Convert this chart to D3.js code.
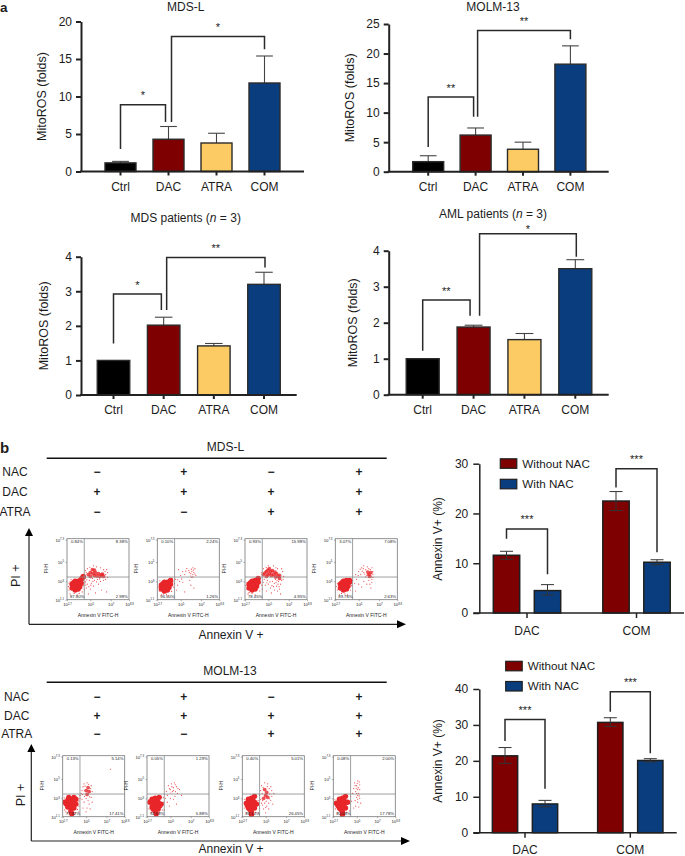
<!DOCTYPE html>
<html>
<head>
<meta charset="utf-8">
<style>
  html, body { margin: 0; padding: 0; background: #fff; }
  svg { display: block; }
  text { font-family: "Liberation Sans", Arial, sans-serif; fill: #1c1c1c; }
</style>
<script src="https://cdn.jsdelivr.net/npm/d3@7"></script>
</head>
<body>
<svg width="685" height="856"></svg>
<script>
var treatments = ['Ctrl', 'DAC', 'ATRA', 'COM'];
var treatmentColors = ['#000000', '#7f0000', '#fdcb63', '#0a3d7e'];

// panel a: bar value and top of the error bar
var mdsLValues = [1.15, 4.3, 3.8, 11.8];
var mdsLTops = [1.35, 6.0, 5.1, 15.4];
var molmValues = [1.7, 6.2, 3.8, 18.2];
var molmTops = [2.7, 7.4, 5.0, 21.3];
var mdsPatientValues = [1.0, 2.02, 1.42, 3.2];
var mdsPatientTops = [1.0, 2.25, 1.49, 3.55];
var amlPatientValues = [1.0, 1.88, 1.53, 3.5];
var amlPatientTops = [1.0, 1.93, 1.7, 3.75];

// panel b: bars with NAC / without NAC
var groups = ['DAC', 'COM'];
var nacSeries = ['Without NAC', 'With NAC'];
var nacColors = ['#7f0000', '#0a3d7e'];
var mdsLNac = [[11.6, 4.5], [22.5, 10.2]];
var mdsLNacHigh = [[12.4, 5.7], [24.4, 10.7]];
var mdsLNacLow = [[10.8, 3.6], [20.6, 9.7]];
var molmNac = [[21.4, 8.0], [30.7, 20.1]];
var molmNacHigh = [[23.7, 9.0], [32.0, 20.6]];
var molmNacLow = [[19.3, 7.2], [29.6, 19.7]];

// treatment grid above the flow plots
var gridRows = ['NAC', 'DAC', 'ATRA'];
var gridSigns = [['−', '+', '−', '+'], ['+', '+', '+', '+'], ['−', '−', '+', '+']];

// quadrant percentages: top left, top right, bottom left, bottom right
var mdsLQuadrants = [
  ['0.84%', '8.38%', '87.80%', '2.98%'],
  ['0.10%', '2.24%', '96.50%', '1.26%'],
  ['0.93%', '15.98%', '78.45%', '4.95%'],
  ['3.07%', '7.08%', '89.78%', '2.63%']
];
var molmQuadrants = [
  ['0.13%', '5.14%', '77.32%', '17.41%'],
  ['0.05%', '1.29%', '92.68%', '5.88%'],
  ['0.40%', '5.01%', '88.14%', '26.45%'],
  ['0.08%', '2.00%', '80.08%', '17.78%']
];

// flow events as [log10 Annexin V, log10 PI], estimated by eye. "dense" are the solid clumps
var mdsLDense = [
  [[3.2,2.3],[3.5,2.1],[3.8,2.2],[3.2,2.7],[3.5,2.6],[3.8,2.6],[4.1,2.8],[3.5,3.0],[3.8,3.0],[4.1,3.2],[4.3,3.5],[3.3,2.4],[3.6,2.35],[3.35,2.85],[3.95,2.45],[3.65,2.8],[3.95,3.0],[4.2,3.35],
   [5.0,3.9],[5.2,4.2],[5.5,3.9],[5.8,3.8],[6.1,3.7],[6.3,3.5],[5.4,3.6],[5.0,3.5],[5.25,3.8],[5.65,3.55],[5.95,3.5],[5.4,4.15],[4.8,3.7],[6.2,3.75]],
  [[3.1,2.2],[3.4,2.0],[3.7,2.1],[3.1,2.6],[3.4,2.5],[3.7,2.5],[4.0,2.7],[3.4,2.9],[3.7,2.9],[4.0,3.1],[3.25,2.35],[3.55,2.3],[3.85,2.35],[3.25,2.75],[3.55,2.7],[3.85,2.75]],
  [[3.1,2.3],[3.4,2.1],[3.7,2.2],[3.1,2.7],[3.4,2.6],[3.7,2.7],[4.0,2.9],[3.4,3.0],[3.7,3.1],[4.0,3.3],[3.25,2.45],[3.55,2.4],[3.85,2.5],[3.25,2.85],[3.55,2.85],[3.85,2.95],
   [4.5,3.7],[4.8,4.0],[5.1,4.3],[5.4,4.1],[5.1,3.8],[5.5,3.7],[5.8,3.8],[6.1,3.6],[4.8,3.5],[6.1,3.3],[4.65,3.85],[4.95,4.15],[5.25,4.0],[5.3,3.6],[5.65,3.95],[5.95,3.5],[4.95,3.65],[5.7,3.45]],
  [[3.2,2.3],[3.5,2.1],[3.8,2.2],[3.2,2.7],[3.5,2.6],[3.8,2.7],[4.1,2.9],[3.5,3.0],[3.8,3.1],[4.1,3.1],[3.35,2.45],[3.65,2.4],[3.95,2.5],[3.35,2.85],[3.65,2.85],[3.95,2.95],
   [6.0,3.7],[6.2,3.9],[6.1,3.5],[5.9,3.95]]
];
var mdsLSparse = [
  [[4.5,3.0],[4.7,2.7],[4.9,3.1],[5.1,2.8],[5.3,2.5],[4.6,2.3],[5.0,2.2],[5.4,3.1],[5.7,3.2],[6.0,3.0],[5.8,2.7],[6.3,3.1],[6.1,2.1],[6.6,1.9],[5.5,1.8],[6.7,3.4],[6.7,3.9],[6.6,4.2],[4.6,3.9],[4.4,3.7],[4.7,4.3],[5.6,4.5],[6.0,4.4],[6.3,4.2],[2.9,2.1],[2.9,2.8],[3.0,1.7],[3.7,1.6],[4.2,1.9],[4.8,1.7],[4.5,3.3],[5.2,3.3],
   [4.55,2.6],[4.65,3.15],[4.85,2.45],[4.4,2.15],[4.3,2.55],[4.5,2.85],[2.85,2.45],[3.0,2.95],[3.1,3.2],[3.4,1.75],[3.9,1.75],[4.15,2.25],[5.05,2.6],[5.25,3.0],[4.95,4.45],[5.3,4.6],[6.5,3.7],[6.5,3.2],[6.45,4.0],[4.5,4.1],[5.9,3.25],[5.6,2.95]],
  [[4.4,2.8],[4.5,3.2],[4.7,2.6],[4.9,3.0],[5.2,2.9],[4.6,2.1],[5.0,3.6],[5.2,4.0],[5.4,3.7],[5.6,4.3],[5.8,4.1],[6.0,3.8],[6.1,4.0],[6.2,3.7],[6.3,3.9],[6.1,3.4],[6.4,4.3],[6.5,3.6],[5.9,3.1],[6.0,2.6],[6.3,2.3],[2.9,2.0],[2.9,2.8],[3.1,1.6],[3.8,1.5],[5.4,1.9],[4.8,4.2],[6.2,4.4],
   [4.3,2.4],[4.25,2.95],[4.15,3.3],[2.8,2.4],[2.95,3.05],[3.3,1.7],[3.6,1.65],[4.1,1.95],[6.05,4.25],[6.25,4.15],[6.0,3.55],[6.2,3.45],[5.85,3.9],[6.4,3.75],[5.5,4.05],[4.7,3.15],[5.1,3.25]],
  [[4.5,2.9],[4.7,2.6],[4.9,3.1],[5.0,2.7],[5.2,2.3],[5.4,3.0],[5.6,2.8],[5.8,2.5],[6.0,3.0],[6.2,2.7],[6.1,2.2],[5.9,2.0],[5.6,2.1],[6.3,3.1],[6.5,3.5],[6.4,4.0],[5.9,4.3],[5.5,4.6],[5.0,4.6],[4.5,4.3],[4.3,3.9],[5.3,1.8],[6.2,1.7],[2.9,2.2],[2.9,2.9],[3.0,1.7],[3.7,1.6],[4.4,2.2],[4.8,2.0],[5.7,3.2],
   [4.6,3.2],[4.85,2.85],[5.15,2.95],[5.35,2.55],[5.5,2.45],[5.75,2.9],[5.95,2.7],[6.05,2.45],[5.85,3.1],[4.35,2.6],[2.8,2.55],[3.1,1.85],[3.4,1.75],[4.15,2.0],[6.3,4.3],[4.8,4.45],[5.75,4.4],[6.45,3.2]],
  [[4.4,3.1],[4.6,2.8],[4.8,3.2],[5.0,2.7],[5.3,2.4],[5.5,3.0],[5.8,2.7],[6.0,3.1],[6.2,2.3],[6.3,2.9],[6.4,3.4],[4.7,3.7],[5.0,4.0],[5.2,3.7],[5.3,4.4],[5.5,3.9],[5.7,4.2],[5.8,3.6],[5.5,4.6],[6.0,4.3],[6.3,4.4],[6.4,4.0],[2.9,2.1],[2.9,2.8],[3.1,1.6],[3.9,1.6],[4.7,2.0],
   [5.35,4.05],[5.6,3.75],[5.45,4.3],[5.85,4.5],[5.95,3.4],[5.7,3.45],[6.15,4.2],[6.4,3.7],[5.15,4.25],[4.95,3.6],[4.3,2.55],[2.8,2.45],[3.3,1.75],[3.65,1.7],[4.2,2.1],[6.1,2.7],[6.3,3.2]]
];
var molmDense = [
  [[2.9,2.6],[3.2,2.1],[3.2,2.8],[3.5,1.7],[3.5,2.3],[3.5,2.9],[3.8,2.0],[3.8,2.6],[3.8,3.1],[4.0,2.4],[4.0,2.9],[3.3,3.1],[3.6,1.4],[3.35,2.45],[3.65,2.65],[3.65,2.05],[3.05,2.4],
   [5.0,3.8],[5.2,4.1],[5.3,3.7],[5.1,3.4]],
  [[3.0,2.6],[3.2,2.1],[3.2,2.9],[3.5,1.7],[3.5,2.3],[3.5,3.0],[3.8,1.9],[3.8,2.6],[3.9,3.1],[4.1,2.4],[3.6,1.4],[3.35,2.5],[3.65,2.7],[3.65,2.1],[3.3,1.9],[3.95,2.2]],
  [[3.1,2.5],[3.3,2.0],[3.3,2.9],[3.6,1.6],[3.6,2.3],[3.6,3.0],[3.9,2.0],[3.9,2.6],[3.9,3.2],[4.1,2.4],[3.6,1.3],[3.45,2.6],[3.75,2.75],[3.75,2.15],[3.45,1.85],[3.2,2.25],
   [4.9,3.9],[5.1,3.6],[5.0,3.3],[5.2,3.1],[4.8,3.0]],
  [[3.0,2.5],[3.3,2.0],[3.3,2.9],[3.6,1.6],[3.6,2.3],[3.6,3.0],[3.9,2.0],[3.9,2.6],[3.9,3.2],[4.1,2.6],[3.6,1.3],[3.45,2.6],[3.75,2.75],[3.75,2.15],[3.45,1.85],[3.15,2.25]]
];
var molmSparse = [
  [[4.4,3.3],[4.6,3.8],[4.7,4.2],[4.8,4.5],[5.1,4.6],[5.5,4.3],[5.6,3.7],[4.6,2.9],[4.8,2.6],[5.0,3.0],[5.2,2.8],[5.3,2.4],[5.1,2.0],[4.7,2.0],[5.5,3.1],[5.6,2.6],[5.0,1.6],[5.4,1.9],[7.4,6.0],[2.9,1.8],[4.3,1.6],[4.4,3.0],[4.5,3.5],
   [4.85,3.2],[4.65,3.4],[5.35,3.15],[5.45,4.0],[4.9,4.25],[5.25,4.45],[4.3,2.2],[4.3,2.7],[2.85,3.05],[3.0,1.6],[3.2,1.45],[3.95,1.5],[4.15,1.85]],
  [[4.5,3.0],[4.6,3.7],[4.7,2.6],[4.8,4.3],[5.0,3.9],[5.1,4.5],[5.2,3.7],[5.3,4.1],[5.4,4.6],[5.5,3.7],[5.6,4.2],[5.7,3.5],[5.9,3.9],[6.1,3.3],[5.0,3.0],[5.3,2.9],[4.9,2.2],[5.6,2.4],[4.4,1.8],[4.3,3.1],[2.9,1.9],
   [4.9,4.0],[5.15,4.2],[5.3,3.8],[5.5,4.4],[5.75,4.0],[5.05,3.55],[4.7,3.3],[4.35,2.6],[2.9,2.9],[3.15,1.55],[3.95,1.55],[4.2,1.8],[5.45,3.2]],
  [[4.4,3.3],[4.5,2.9],[4.6,2.5],[4.5,3.8],[4.6,4.3],[4.9,4.6],[5.2,4.5],[5.5,4.2],[5.6,3.8],[5.6,3.2],[5.5,2.8],[5.3,2.5],[5.1,2.2],[4.8,1.9],[5.0,1.5],[5.3,1.9],[4.7,2.3],[5.7,2.4],[5.8,3.5],[4.4,2.0],[4.3,1.5],[2.9,2.0],
   [4.65,3.5],[4.7,2.75],[4.9,2.5],[5.05,2.7],[5.35,2.95],[5.4,3.45],[5.35,4.0],[4.75,4.1],[5.15,4.2],[5.0,2.05],[2.9,2.9],[3.15,1.5],[4.0,1.55],[4.25,2.75]],
  [[4.4,3.2],[4.5,2.7],[4.6,3.5],[4.7,4.0],[4.8,4.6],[5.0,4.3],[5.1,4.8],[5.3,4.4],[5.3,3.9],[5.2,3.5],[5.0,3.1],[5.3,3.0],[5.1,2.6],[5.2,2.1],[4.9,2.2],[4.7,2.0],[5.4,2.5],[4.9,3.7],[5.1,3.3],[4.3,1.7],[2.9,1.9],
   [4.95,4.0],[5.1,3.9],[5.15,4.1],[5.05,4.55],[4.85,4.3],[5.25,4.7],[5.0,3.5],[5.25,3.25],[5.1,2.9],[4.85,2.75],[2.85,2.85],[3.15,1.5],[4.0,1.55],[4.25,2.5]]
];

var ink = '#222';
var svg = d3.select('svg');

// band scale from the centres of the first and last band
function bandAround(domain, first, last, width) {
  var step = (last - first) / (domain.length - 1);
  var p = 1 - width / step;
  return d3.scaleBand()
    .domain(domain)
    .range([first - width / 2 - p * step, last + width / 2 + p * step])
    .padding(p);
}

function styleAxis(g, lineWidth, fontSize) {
  g.selectAll('path, line').attr('stroke', ink).attr('stroke-width', lineWidth);
  g.selectAll('text').attr('font-size', fontSize).attr('fill', '#1c1c1c');
}

function drawBracket(b, yScale, xFrom, xTo) {
  svg.append('path')
    .attr('d', d3.line()([[xFrom, yScale(b.fromLow)], [xFrom, yScale(b.top)], [xTo, yScale(b.top)], [xTo, yScale(b.toLow)]]))
    .attr('fill', 'none')
    .attr('stroke', '#2a2a2a')
    .attr('stroke-width', 1.5);
  svg.append('text')
    .attr('x', (xFrom + xTo) / 2)
    .attr('y', yScale(b.top) - 5.5 + (b.labelDy || 0))
    .attr('text-anchor', 'middle')
    .attr('font-size', 11)
    .text(b.label);
}

function treatmentPanel(p) {
  var yScale = d3.scaleLinear().domain([0, p.max]).range([p.y0, p.y1]);
  var xScale = bandAround(treatments, p.c0, p.c3, p.barWidth);
  var mid = xScale.bandwidth() / 2;

  svg.append('text')
    .attr('x', p.titleX).attr('y', p.titleY)
    .attr('text-anchor', 'middle').attr('font-size', 12)
    .html(p.title);

  // error bars go behind the bars
  treatments.forEach(function(t, i) {
    if (p.tops[i] <= p.values[i]) return;
    var cx = xScale(t) + mid;
    svg.append('path')
      .attr('d', d3.line()([[cx, yScale(p.values[i])], [cx, yScale(p.tops[i])]]))
      .attr('stroke', '#444').attr('stroke-width', 1.1);
    svg.append('path')
      .attr('d', d3.line()([[cx - p.barWidth * 0.27, yScale(p.tops[i])], [cx + p.barWidth * 0.27, yScale(p.tops[i])]]))
      .attr('stroke', '#444').attr('stroke-width', 1.1);
  });

  svg.selectAll(null)
    .data(treatments)
    .enter().append('rect')
    .attr('x', function(d) { return xScale(d); })
    .attr('y', function(d, i) { return yScale(p.values[i]); })
    .attr('width', xScale.bandwidth())
    .attr('height', function(d, i) { return p.y0 - yScale(p.values[i]); })
    .attr('fill', function(d, i) { return treatmentColors[i]; })
    .attr('stroke', '#2b2b2b')
    .attr('stroke-width', 1.4);

  var yAxis = d3.axisLeft(yScale).tickValues(p.ticks).tickFormat(d3.format('d')).tickSize(5).tickPadding(4).tickSizeOuter(0);
  svg.append('g')
    .attr('transform', 'translate(' + [p.x0, 0] + ')')
    .call(yAxis)
    .call(styleAxis, 2, 12);

  var xAxis = d3.axisBottom(xScale).tickSize(4).tickPadding(6.5).tickSizeOuter(0);
  var xg = svg.append('g')
    .attr('transform', 'translate(' + [0, p.y0] + ')')
    .call(xAxis)
    .call(styleAxis, 2, 12);
  xg.select('.domain').remove();

  svg.append('path')
    .attr('d', d3.line()([[p.x0 - 1, p.y0], [p.xEnd, p.y0]]))
    .attr('stroke', ink).attr('stroke-width', 2);

  svg.append('text')
    .attr('transform', 'translate(' + [p.labelX, (p.y0 + p.y1) / 2 + p.labelDy] + ') rotate(-90)')
    .attr('text-anchor', 'middle').attr('font-size', 12.5)
    .text('MitoROS (folds)');

  p.brackets.forEach(function(b) {
    drawBracket(b, yScale,
      xScale(b.from) + mid + b.fromDx,
      xScale(b.to) + mid + b.toDx);
  });
}

treatmentPanel({
  title: 'MDS-L', titleX: 185.7, titleY: 10.5,
  x0: 81, xEnd: 304, y0: 171.5, y1: 21.5, max: 20, ticks: [0, 5, 10, 15, 20],
  c0: 120.5, c3: 264.5, barWidth: 31, labelX: 46, labelDy: 0,
  values: mdsLValues, tops: mdsLTops,
  brackets: [
    {from: 'Ctrl', to: 'DAC', fromDx: 0, toDx: -3, fromLow: 3.0, top: 8.9, toLow: 6.6, label: '*'},
    {from: 'DAC', to: 'COM', fromDx: 3, toDx: 0, fromLow: 6.6, top: 18.0, toLow: 16.3, label: '*'}
  ]
});
treatmentPanel({
  title: 'MOLM-13', titleX: 493, titleY: 11,
  x0: 388.7, xEnd: 608.7, y0: 171.7, y1: 24, max: 25, ticks: [0, 5, 10, 15, 20, 25],
  c0: 428.2, c3: 570.4, barWidth: 31, labelX: 354, labelDy: 0,
  values: molmValues, tops: molmTops,
  brackets: [
    {from: 'Ctrl', to: 'DAC', fromDx: 0, toDx: -2, fromLow: 4.2, top: 12.64, toLow: 9.3, label: '**'},
    {from: 'DAC', to: 'COM', fromDx: 2, toDx: 0, fromLow: 9.3, top: 23.9, toLow: 22.4, label: '**'}
  ]
});
treatmentPanel({
  title: 'MDS patients (<tspan font-style="italic">n</tspan> = 3)', titleX: 185.7, titleY: 222,
  x0: 81, xEnd: 296.7, y0: 395, y1: 256.7, max: 4, ticks: [0, 1, 2, 3, 4],
  c0: 113.5, c3: 264, barWidth: 32.5, labelX: 48, labelDy: 0,
  values: mdsPatientValues, tops: mdsPatientTops,
  brackets: [
    {from: 'Ctrl', to: 'DAC', fromDx: 0, toDx: -2.3, fromLow: 1.49, top: 2.92, toLow: 2.46, label: '*'},
    {from: 'DAC', to: 'COM', fromDx: 3, toDx: 1, fromLow: 2.46, top: 3.98, toLow: 3.69, label: '**'}
  ]
});
treatmentPanel({
  title: 'AML patients (<tspan font-style="italic">n</tspan> = 3)', titleX: 493, titleY: 218,
  x0: 388.7, xEnd: 608.7, y0: 394.7, y1: 250.7, max: 4, ticks: [0, 1, 2, 3, 4],
  c0: 422.7, c3: 575.3, barWidth: 33, labelX: 357, labelDy: 0,
  values: amlPatientValues, tops: amlPatientTops,
  brackets: [
    {from: 'Ctrl', to: 'DAC', fromDx: 0, toDx: -3.5, fromLow: 1.22, top: 2.63, toLow: 2.19, label: '**'},
    {from: 'DAC', to: 'COM', fromDx: 6, toDx: 1, fromLow: 2.19, top: 4.47, toLow: 3.83, label: '*', labelDy: 4.5}
  ]
});

function nacPanel(p) {
  var yScale = d3.scaleLinear().domain([0, p.max]).range([p.y0, p.y1]);
  var xScale = bandAround(groups, p.g0, p.g1, 60);
  var inner = bandAround(nacSeries, -p.offset, p.offset, p.barWidth);

  groups.forEach(function(g, gi) {
    var gx = xScale(g) + xScale.bandwidth() / 2;
    nacSeries.forEach(function(s, si) {
      var left = gx + inner(s);
      var cx = left + inner.bandwidth() / 2;
      svg.append('rect')
        .attr('x', left)
        .attr('y', yScale(p.values[gi][si]))
        .attr('width', inner.bandwidth())
        .attr('height', p.y0 - yScale(p.values[gi][si]))
        .attr('fill', nacColors[si])
        .attr('stroke', '#1f1f1f')
        .attr('stroke-width', 1.5);
      var hi = yScale(p.high[gi][si]), lo = yScale(p.low[gi][si]);
      svg.append('path')
        .attr('d', 'M' + [cx - 6.5, hi] + 'H' + (cx + 6.5) + 'M' + [cx, hi] + 'V' + lo + 'M' + [cx - 6.5, lo] + 'H' + (cx + 6.5))
        .attr('fill', 'none').attr('stroke', '#333').attr('stroke-width', 1);
    });
  });

  var yAxis = d3.axisLeft(yScale).tickValues(p.ticks).tickFormat(d3.format('d')).tickSize(6).tickPadding(5).tickSizeOuter(0);
  svg.append('g')
    .attr('transform', 'translate(' + [p.x0, 0] + ')')
    .call(yAxis)
    .call(styleAxis, 1.5, 12);

  var xg = svg.append('g')
    .attr('transform', 'translate(' + [0, p.y0] + ')')
    .call(d3.axisBottom(xScale).tickSize(5).tickPadding(8).tickSizeOuter(0))
    .call(styleAxis, 1.5, 12);
  xg.select('.domain').remove();

  svg.append('path')
    .attr('d', d3.line()([[p.x0 - 6, p.y0], [p.xEnd, p.y0]]))
    .attr('stroke', ink).attr('stroke-width', 1.5);

  svg.append('text')
    .attr('transform', 'translate(' + [p.labelX, p.labelY] + ') rotate(-90)')
    .attr('text-anchor', 'middle').attr('font-size', 12)
    .text('Annexin V+ (%)');

  nacSeries.forEach(function(s, i) {
    svg.append('rect')
      .attr('x', p.legendX).attr('y', p.legendYs[i] - 4.7)
      .attr('width', 16.5).attr('height', 9.5)
      .attr('fill', nacColors[i]).attr('stroke', '#1f1f1f').attr('stroke-width', 1.2);
    svg.append('text')
      .attr('x', p.legendX + 22).attr('y', p.legendYs[i] + 4)
      .attr('font-size', 11.7)
      .text(s);
  });

  p.brackets.forEach(function(b) {
    var gx = xScale(b.group) + xScale.bandwidth() / 2;
    drawBracket(b, yScale, gx - p.offset, gx + p.offset);
  });
}

nacPanel({
  x0: 479.3, xEnd: 684, y0: 613, y1: 463.7, max: 30, ticks: [0, 10, 20, 30],
  g0: 527, g1: 636.5, offset: 20.5, barWidth: 26.4,
  labelX: 442, labelY: 539,
  legendX: 500.3, legendYs: [463.5, 484],
  values: mdsLNac, high: mdsLNacHigh, low: mdsLNacLow,
  brackets: [
    {group: 'DAC', fromLow: 14.9, top: 16.9, toLow: 7.8, label: '***'},
    {group: 'COM', fromLow: 25.2, top: 29, toLow: 12.2, label: '***'}
  ]
});
nacPanel({
  x0: 479.3, xEnd: 676.7, y0: 832.7, y1: 689, max: 40, ticks: [0, 10, 20, 30, 40],
  g0: 525, g1: 630.3, offset: 20, barWidth: 25.3,
  labelX: 442, labelY: 761,
  legendX: 505.7, legendYs: [666, 686.2],
  values: molmNac, high: molmNacHigh, low: molmNacLow,
  brackets: [
    {group: 'DAC', fromLow: 25.5, top: 31.5, toLow: 12.2, label: '***'},
    {group: 'COM', fromLow: 33.7, top: 39.2, toLow: 22.1, label: '***'}
  ]
});

function flowPlot(left, top, quadrants, dense, sparse) {
  var w = 62, h = 61;
  var x = d3.scaleLinear().domain([2.7, 8.8]).range([left, left + w]);
  var y = d3.scaleLinear().domain([1.1, 7.4]).range([top + h, top]);

  var clip = 'clip-' + Math.round(left) + '-' + Math.round(top);
  svg.append('clipPath').attr('id', clip)
    .append('rect').attr('x', left).attr('y', top).attr('width', w).attr('height', h);
  var dots = svg.append('g').attr('clip-path', 'url(#' + clip + ')');

  dots.selectAll('.sparse')
    .data(sparse).enter().append('circle').attr('class', 'sparse')
    .attr('cx', function(d) { return x(d[0]); })
    .attr('cy', function(d) { return y(d[1]); })
    .attr('r', 0.6)
    .attr('fill', '#ec4a4d');
  // the lower left clump is solid, the upper ones are thinner
  dots.selectAll('.dense')
    .data(dense).enter().append('circle').attr('class', 'dense')
    .attr('cx', function(d) { return x(d[0]); })
    .attr('cy', function(d) { return y(d[1]); })
    .attr('r', function(d) { return d[0] < 4.45 ? 2.7 : 1.9; })
    .attr('fill', '#e8262a')
    .attr('fill-opacity', function(d) { return d[0] < 4.45 ? 1 : 0.8; });

  svg.append('rect')
    .attr('x', left).attr('y', top).attr('width', w).attr('height', h)
    .attr('fill', 'none').attr('stroke', '#777').attr('stroke-width', 0.8);
  svg.append('path')
    .attr('d', 'M' + [x(4.4), top] + 'V' + (top + h) + 'M' + [left, y(3.44)] + 'H' + (left + w))
    .attr('fill', 'none').attr('stroke', '#888').attr('stroke-width', 0.8);

  var bottom = svg.append('g')
    .attr('transform', 'translate(' + [0, top + h] + ')')
    .call(d3.axisBottom(x).tickValues([2.7, 5, 7, 8.8]).tickSize(1.5).tickPadding(2).tickFormat(''));
  var side = svg.append('g')
    .attr('transform', 'translate(' + [left, 0] + ')')
    .call(d3.axisLeft(y).tickValues([1.1, 3, 5, 7.3]).tickSize(1.5).tickPadding(1.5).tickFormat(''));
  [bottom, side].forEach(function(g) {
    g.select('.domain').remove();
    g.selectAll('line').attr('stroke', '#666').attr('stroke-width', 0.5);
    var labels = g.selectAll('.tick text').attr('font-size', 4.2).attr('fill', '#333').text('10');
    labels.append('tspan')
      .attr('dy', -1.3).attr('font-size', 2.8)
      .text(function(d) { return d; });
  });

  svg.append('text')
    .attr('x', left + w / 2).attr('y', top + h + 17.5)
    .attr('text-anchor', 'middle').attr('font-size', 5).attr('fill', '#333')
    .text('Annexin V FITC-H');
  svg.append('text')
    .attr('transform', 'translate(' + [left - 19, top + 30] + ') rotate(-90)')
    .attr('text-anchor', 'middle').attr('font-size', 4.6).attr('fill', '#333')
    .text('PI-H');

  var spots = [
    [left + 4, top + 4.5, 'start'], [left + w - 1.3, top + 4.5, 'end'],
    [left + 3, top + h - 2, 'start'], [left + w - 1.3, top + h - 2, 'end']
  ];
  spots.forEach(function(s, i) {
    svg.append('text')
      .attr('x', s[0]).attr('y', s[1])
      .attr('text-anchor', s[2]).attr('font-size', 4.2).attr('fill', '#333')
      .text(quadrants[i]);
  });
}

function flowBlock(b) {
  svg.append('text')
    .attr('x', b.titleX).attr('y', b.titleY)
    .attr('text-anchor', 'middle').attr('font-size', 12)
    .text(b.title);
  svg.append('path')
    .attr('d', d3.line()([[46.7, b.ruleY], [386.7, b.ruleY]]))
    .attr('stroke', '#111').attr('stroke-width', 1.6);

  gridRows.forEach(function(r, ri) {
    svg.append('text')
      .attr('x', b.rowX).attr('y', b.rowYs[ri] + 4.3)
      .attr('text-anchor', 'middle').attr('font-size', 12)
      .text(r);
    gridSigns[ri].forEach(function(sign, ci) {
      svg.append('text')
        .attr('x', [97, 183.7, 271, 359][ci]).attr('y', b.rowYs[ri] + 4.3)
        .attr('text-anchor', 'middle').attr('font-size', 12).attr('font-weight', 'bold')
        .text(sign);
    });
  });

  b.lefts.forEach(function(left, i) {
    flowPlot(left, b.top, b.quadrants[i], b.dense[i], b.sparse[i]);
  });

  // the two arrows
  svg.append('path')
    .attr('d', 'M' + [b.arrowX, b.arrowY] + 'V' + (b.arrowTop + 6) + 'M' + [b.arrowX, b.arrowY] + 'H' + (b.arrowEnd - 6))
    .attr('fill', 'none').attr('stroke', '#222').attr('stroke-width', 1.2);
  svg.append('path')
    .attr('d', 'M' + [b.arrowX, b.arrowTop] + 'l4,8h-8z')
    .attr('fill', '#000');
  svg.append('path')
    .attr('d', 'M' + [b.arrowEnd, b.arrowY] + 'l-9,-4v8z')
    .attr('fill', '#000');

  svg.append('text')
    .attr('transform', 'translate(' + [b.piX, b.piY] + ') rotate(-90)')
    .attr('text-anchor', 'middle').attr('font-size', 12.5)
    .text('PI +');
  svg.append('text')
    .attr('x', 231).attr('y', b.annexinY)
    .attr('text-anchor', 'middle').attr('font-size', 12)
    .text('Annexin V +');
}

flowBlock({
  title: 'MDS-L', titleX: 225.5, titleY: 451, ruleY: 458.3,
  rowX: 15, rowYs: [471.7, 492, 511.7],
  top: 538.7, lefts: [67, 157.3, 245, 335.3],
  quadrants: mdsLQuadrants, dense: mdsLDense, sparse: mdsLSparse,
  arrowX: 29, arrowY: 624.3, arrowTop: 528, arrowEnd: 406,
  piX: 19.5, piY: 575.7, annexinY: 639
});
flowBlock({
  title: 'MOLM-13', titleX: 230, titleY: 675, ruleY: 682.3,
  rowX: 16.7, rowYs: [697, 716, 734],
  top: 755.7, lefts: [62.7, 147, 242.3, 333.3],
  quadrants: molmQuadrants, dense: molmDense, sparse: molmSparse,
  arrowX: 31.3, arrowY: 841, arrowTop: 744, arrowEnd: 410,
  piX: 25, piY: 795, annexinY: 853.4
});

// panel letters
svg.append('text').attr('x', 0).attr('y', 12.3).attr('font-size', 13.5).attr('font-weight', 'bold').attr('fill', '#000').text('a');
svg.append('text').attr('x', 0).attr('y', 453).attr('font-size', 15).attr('font-weight', 'bold').attr('fill', '#000').text('b');
</script>
</body>
</html>
